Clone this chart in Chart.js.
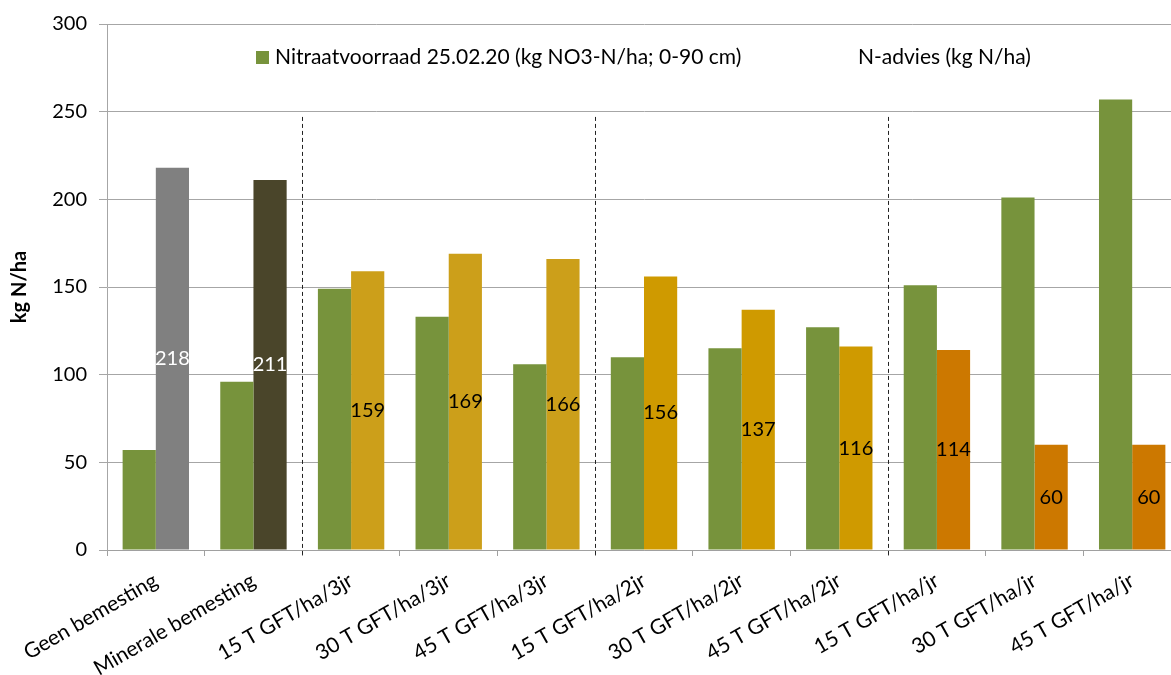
<!DOCTYPE html>
<html>
<head>
<meta charset="utf-8">
<script src="https://cdn.jsdelivr.net/npm/chart.js@4"></script>
<style>
  html, body { margin: 0; padding: 0; background: #fff; overflow: hidden; }
  #wrap { width: 1171px; height: 675px; overflow: hidden; }
  #box { width: 1181px; height: 675px; position: relative; }
</style>
</head>
<body>
<div id="wrap"><div id="box"><canvas id="myChart"></canvas></div></div>
<script>
const categories = [
    'Geen bemesting', 'Minerale bemesting',
    '15 T GFT/ha/3jr', '30 T GFT/ha/3jr', '45 T GFT/ha/3jr',
    '15 T GFT/ha/2jr', '30 T GFT/ha/2jr', '45 T GFT/ha/2jr',
    '15 T GFT/ha/jr', '30 T GFT/ha/jr', '45 T GFT/ha/jr'
];
const nitraat = [57, 96, 149, 133, 106, 110, 115, 127, 151, 201, 257];
const advies = [218, 211, 159, 169, 166, 156, 137, 116, 114, 60, 60];
const seriesNames = ['Nitraatvoorraad 25.02.20 (kg NO3-N/ha; 0-90 cm)', 'N-advies (kg N/ha)'];
const adviesColors = [
    '#808080', '#4a452a',
    '#cc9f1a', '#cc9f1a', '#cc9f1a',
    '#cf9a00', '#cf9a00', '#cf9a00',
    '#cc7800', '#cc7800', '#cc7800'
];
const labelColors = ['#ffffff', '#ffffff', '#000', '#000', '#000', '#000', '#000', '#000', '#000', '#000', '#000'];
const groupBreaks = [2, 5, 8];
const FONT = 'Lato';

// numbers in the middle of the N-advies bars
const barLabels = {
    id: 'barLabels',
    afterDatasetsDraw(chart) {
        const ctx = chart.ctx;
        const meta = chart.getDatasetMeta(1);
        ctx.save();
        ctx.font = '20px ' + FONT;
        ctx.textAlign = 'center';
        ctx.textBaseline = 'middle';
        meta.data.forEach((bar, i) => {
            ctx.fillStyle = labelColors[i];
            ctx.fillText(advies[i], bar.x, (bar.y + bar.base) / 2);
        });
        ctx.restore();
    }
};

// dashed separators between the groups
const dividers = {
    id: 'dividers',
    afterDatasetsDraw(chart) {
        const ctx = chart.ctx;
        const x = chart.scales.x, y = chart.scales.y;
        ctx.save();
        ctx.strokeStyle = '#222';
        ctx.lineWidth = 1;
        ctx.setLineDash([4, 3]);
        groupBreaks.forEach(b => {
            const px = Math.round((x.getPixelForValue(b - 1) + x.getPixelForValue(b)) / 2) + 0.5;
            ctx.beginPath();
            ctx.moveTo(px, y.getPixelForValue(247));
            ctx.lineTo(px, y.bottom + 6);
            ctx.stroke();
        });
        ctx.restore();
    }
};

// legend sits inside the plot
const innerLegend = {
    id: 'innerLegend',
    afterDraw(chart) {
        const ctx = chart.ctx;
        const a = chart.chartArea;
        const ly = a.top + 33;
        ctx.save();
        ctx.font = '21px ' + FONT;
        ctx.textBaseline = 'middle';
        ctx.fillStyle = '#77933c';
        ctx.fillRect(a.left + 149, ly - 6, 13, 13);
        ctx.fillStyle = '#000';
        ctx.fillText(seriesNames[0], a.left + 168, ly);
        ctx.fillText(seriesNames[1], a.left + 751, ly);
        ctx.restore();
    }
};

const ctx = document.getElementById('myChart').getContext('2d');

const myChart = new Chart(ctx, {
    type: 'bar',
    data: {
        labels: categories,
        datasets: [{
            label: seriesNames[0],
            data: nitraat,
            backgroundColor: '#77933c',
            categoryPercentage: 0.68,
            barPercentage: 1
        }, {
            label: seriesNames[1],
            data: advies,
            backgroundColor: adviesColors,
            categoryPercentage: 0.68,
            barPercentage: 1
        }]
    },
    options: {
        responsive: true,
        maintainAspectRatio: false,
        animation: false,
        layout: { padding: { top: 15, right: 0, left: 0, bottom: 0 } },
        plugins: {
            legend: { display: false },
            tooltip: { enabled: false }
        },
        scales: {
            x: {
                grid: { offset: true, drawOnChartArea: false, drawTicks: true, tickLength: 6, color: '#a0a0a0' },
                border: { color: '#a0a0a0' },
                ticks: {
                    maxRotation: 30, minRotation: 30, autoSkip: false,
                    font: { family: FONT, size: 21 }, color: '#000', padding: 12
                },
                afterFit(s) { s.height = 125; }
            },
            y: {
                min: 0, max: 300,
                ticks: { stepSize: 50, font: { family: FONT, size: 20 }, color: '#000', padding: 12 },
                grid: { color: '#a6a6a6', tickLength: 8 },
                border: { color: '#a6a6a6' },
                title: {
                    display: true, text: 'kg N/ha',
                    font: { family: FONT, size: 20, weight: 'bold' }, color: '#000',
                    padding: { top: 8, bottom: 0 }
                },
                afterFit(s) { s.width = 107; }
            }
        }
    },
    plugins: [barLabels, dividers, innerLegend]
});
</script>
</body>
</html>
